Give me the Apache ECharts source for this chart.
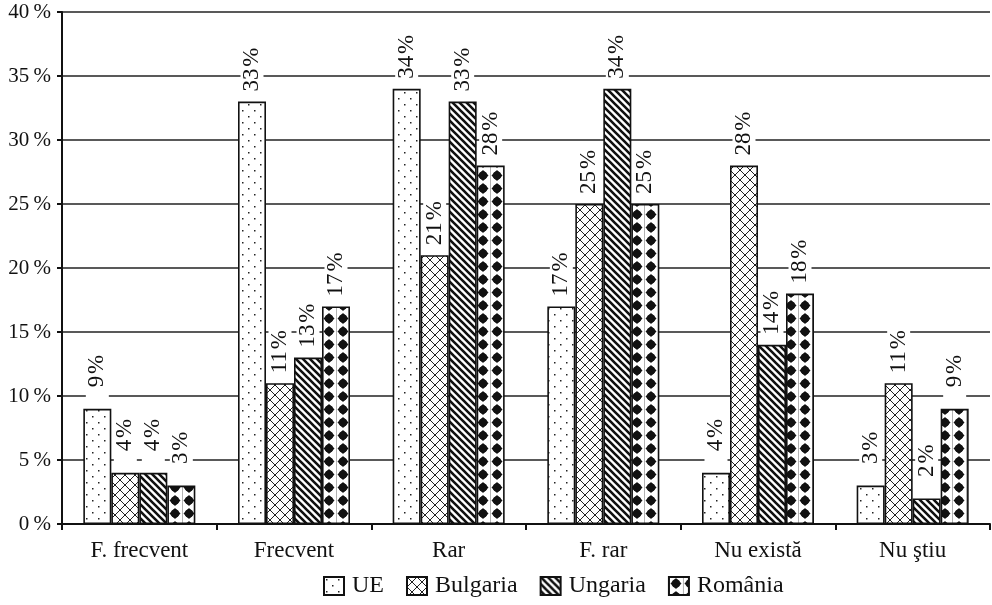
<!DOCTYPE html>
<html><head><meta charset="utf-8">
<script src="https://cdn.jsdelivr.net/npm/echarts@6/dist/echarts.min.js"></script>
<style>html,body{margin:0;padding:0;background:#fff}#c{width:992px;height:605px}</style>
</head><body><div id="c"></div>
<script>
const categories = ['F. frecvent', 'Frecvent', 'Rar', 'F. rar', 'Nu există', 'Nu ştiu'];
const seriesNames = ['UE', 'Bulgaria', 'Ungaria', 'România'];
const ueValues = [9, 33, 34, 17, 4, 3];
const bulgariaValues = [4, 11, 21, 25, 28, 11];
const ungariaValues = [4, 13, 33, 34, 14, 2];
const romaniaValues = [3, 17, 28, 25, 18, 9];
const yTicks = [0, 5, 10, 15, 20, 25, 30, 35, 40];

function tile(w, h, draw) {
  const c = document.createElement('canvas');
  c.width = w; c.height = h;
  const g = c.getContext('2d');
  g.fillStyle = '#fff'; g.fillRect(0, 0, w, h);
  draw(g, w, h);
  return { image: c, repeat: 'repeat' };
}
const patUE = tile(12, 12, (g) => {
  g.fillStyle = '#222';
  g.fillRect(2, 2, 1.5, 1.5);
  g.fillRect(8, 8, 1.5, 1.5);
});
const patBG = tile(10, 10, (g, w, h) => {
  g.strokeStyle = '#222'; g.lineWidth = 1;
  g.beginPath();
  g.moveTo(0, 0); g.lineTo(w, h);
  g.moveTo(w, 0); g.lineTo(0, h);
  g.stroke();
});
const patHU = tile(7, 7, (g, w, h) => {
  g.strokeStyle = '#111'; g.lineWidth = 2.6;
  g.beginPath();
  for (let k = -2; k <= 2; k++) {
    g.moveTo(k * w - 2, -2); g.lineTo(k * w + w + 2, h + 2);
  }
  g.stroke();
});
const patRO = tile(14, 13, (g) => {
  g.fillStyle = '#111';
  g.beginPath();
  g.moveTo(7, 1); g.lineTo(12.5, 6.5); g.lineTo(7, 12); g.lineTo(1.5, 6.5); g.closePath();
  g.fill();
  g.beginPath(); g.arc(7, 6.5, 4.3, 0, Math.PI * 2); g.fill();
  g.strokeStyle = '#777'; g.lineWidth = 0.7;
  g.beginPath(); g.moveTo(0.3, 0); g.lineTo(0.3, 13); g.stroke();
});
const patterns = [patUE, patBG, patHU, patRO];
const allValues = [ueValues, bulgariaValues, ungariaValues, romaniaValues];

const FONT = 'Liberation Serif';
const chart = echarts.init(document.getElementById('c'), null, { renderer: 'canvas' });
chart.setOption({
  animation: false,
  backgroundColor: '#fff',
  grid: { left: 62, right: 2, top: 12, bottom: 81 },
  legend: {
    top: 569, left: 318, icon: 'rect', itemWidth: 20, itemHeight: 18, itemGap: 22,
    textStyle: { fontFamily: FONT, fontSize: 24, color: '#111', padding: [0, 0, 0, 3] },
    data: seriesNames
  },
  xAxis: {
    type: 'category', data: categories,
    axisLine: { lineStyle: { color: '#111', width: 2 } },
    axisTick: { show: true, length: 6, lineStyle: { color: '#111', width: 2 } },
    axisLabel: { fontFamily: FONT, fontSize: 23, color: '#111', margin: 15 }
  },
  yAxis: {
    type: 'value', min: yTicks[0], max: yTicks[yTicks.length - 1], interval: 5,
    axisLine: { show: true, lineStyle: { color: '#111', width: 2 } },
    axisTick: { show: true, length: 5, lineStyle: { color: '#111', width: 2 } },
    axisLabel: { fontFamily: FONT, fontSize: 21, color: '#111', margin: 11, formatter: '{value}\u2009%' },
    splitLine: { lineStyle: { color: '#222', width: 1.6 } }
  },
  series: seriesNames.map((n, i) => ({
    name: n, type: 'bar', data: allValues[i],
    barWidth: 28, barGap: '0%',
    itemStyle: { color: patterns[i], borderColor: '#111', borderWidth: 1.6 },
    label: {
      show: true, position: 'top', rotate: 90, align: 'left', verticalAlign: 'middle',
      distance: 8,
      formatter: (p) => (p.value < 10 ? '\u2007' : '') + p.value + '\u200A%',
      fontFamily: FONT, fontSize: 23, color: '#111',
      backgroundColor: '#fff', padding: [0, 2]
    }
  }))
});
</script></body></html>
